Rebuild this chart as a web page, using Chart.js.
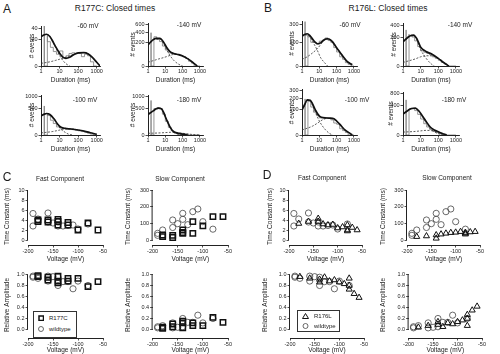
<!DOCTYPE html>
<html>
<head>
<meta charset="utf-8">
<title>Closed times</title>
<script src="https://cdn.jsdelivr.net/npm/chart.js@4.4.1/dist/chart.umd.min.js"></script>
<style>
  body { margin:0; width:500px; height:354px; overflow:hidden; background:#fff; position:relative;
         font-family:"Liberation Sans", Arial, sans-serif; color:#1a1a1a; }
  canvas { position:absolute; }
  .lbl { position:absolute; white-space:nowrap; transform:translate(-50%,-50%); font-size:6.5px; line-height:1; }
  .big { font-size:12px; }
  .head { font-size:8.5px; }
  .leg { position:absolute; border:1px solid #333; font-size:6px; box-sizing:border-box; padding:1px 0 0 4px; line-height:11px; background:#fff; }
  .leg svg { vertical-align:middle; margin-right:5px; }
</style>
</head>
<body>
<canvas id="a1"></canvas><canvas id="a2"></canvas><canvas id="a3"></canvas><canvas id="a4"></canvas>
<canvas id="b1"></canvas><canvas id="b2"></canvas><canvas id="b3"></canvas><canvas id="b4"></canvas>
<canvas id="c1"></canvas><canvas id="c2"></canvas><canvas id="c3"></canvas><canvas id="c4"></canvas>
<canvas id="d1"></canvas><canvas id="d2"></canvas><canvas id="d3"></canvas><canvas id="d4"></canvas>

<div class="lbl big" style="left:7px;top:9px">A</div>
<div class="lbl head" style="left:115px;top:8px">R177C: Closed times</div>
<div class="lbl big" style="left:268px;top:8px">B</div>
<div class="lbl head" style="left:388px;top:8px">R176L: Closed times</div>
<div class="lbl" style="left:88px;top:26px">-60 mV</div>
<div class="lbl" style="left:189px;top:25px">-140 mV</div>
<div class="lbl" style="left:85px;top:100px">-100 mV</div>
<div class="lbl" style="left:189px;top:100px">-180 mV</div>
<div class="lbl" style="left:350px;top:25px">-60 mV</div>
<div class="lbl" style="left:460px;top:25px">-140 mV</div>
<div class="lbl" style="left:357px;top:100px">-100 mV</div>
<div class="lbl" style="left:454px;top:100px">-180 mV</div>
<div class="lbl big" style="left:7px;top:177px">C</div>
<div class="lbl big" style="left:267px;top:175px">D</div>
<div class="lbl" style="left:60px;top:179px">Fast Component</div>
<div class="lbl" style="left:180px;top:179px">Slow Component</div>
<div class="lbl" style="left:322px;top:178px">Fast Component</div>
<div class="lbl" style="left:447px;top:178px">Slow Component</div>

<div class="leg" style="left:33px;top:311px;width:44px;height:27px">
  <div><svg width="6" height="6"><rect x="1" y="1" width="4.5" height="4.5" fill="none" stroke="#111" stroke-width="1.5"/></svg>R177C</div>
  <div><svg width="6" height="6"><circle cx="3" cy="3" r="2.5" fill="none" stroke="#444" stroke-width="0.8"/></svg>wildtype</div>
</div>
<div class="leg" style="left:297px;top:310px;width:43px;height:22px;line-height:9.5px">
  <div><svg width="7" height="6"><polygon points="3.5,0.5 6.5,5.5 0.5,5.5" fill="none" stroke="#111" stroke-width="1"/></svg>R176L</div>
  <div><svg width="7" height="6"><circle cx="3.5" cy="3" r="2.5" fill="none" stroke="#444" stroke-width="0.8"/></svg>wildtype</div>
</div>

<script>
// ---- histogram bins (ms) and tick values
var binEdges = [1.5, 2.2, 3.2, 4.6, 6.8, 10, 15, 22, 32, 46, 68, 100, 150, 220, 320, 460, 680, 1000];
var durTicks = [1, 10, 100, 1000];
var voltTicks = [-200, -150, -100, -50];

// ---- R177C closed-time histograms (# events per bin) and fits [ms, events]
var a1Hist = [46, 27, 17, 10, 6, 4, 6.5, 2, 3, 4.5, 5, 4.5, 4.5, 2.5, 4, 3, 0.5];
var a1Total = [[1,25],[1.5,28],[2,29],[3,25],[4,19],[6,11],[10,4.7],[15,2.3],[22,1.7],[35,2.2],[60,3.8],[100,5],[200,5.2],[350,4.2],[600,2],[1000,0.4],[1500,0]];
var a1Fast = [[1,25],[1.5,28],[2,29],[3,25],[4,18.5],[6,10],[10,3.2],[15,0.9],[22,0.15],[35,0]];
var a1Slow = [[1,0.2],[3,0.5],[6,0.9],[10,1.3],[22,2.2],[35,3],[60,4],[100,5],[200,5.2],[350,4.2],[600,2],[1000,0.4],[1500,0]];

var a2Hist = [390, 280, 300, 250, 210, 140, 90, 60, 55, 50, 45, 40, 30, 20, 8, 3, 0];
var a2Total = [[1,157],[1.5,210],[2,245],[3,270],[5,268],[8,200],[12,120],[18,75],[30,55],[60,45],[100,35],[200,18],[400,4],[700,0]];
var a2Fast = [[1,152],[1.5,204],[2,236],[3,258],[5,250],[8,175],[12,90],[18,42],[30,12],[60,1],[100,0]];
var a2Slow = [[1,5],[2,10],[4,17],[8,25],[15,35],[25,45],[40,48],[60,44],[100,35],[200,18],[400,4],[700,0]];

var a3Hist = [580, 300, 260, 150, 90, 45, 35, 30, 28, 26, 20, 16, 12, 8, 5, 2, 0.5];
var a3Total = [[1,250],[1.5,300],[2,318],[3,290],[5,180],[8,80],[12,42],[20,30],[40,25],[100,17],[300,7],[600,2],[1000,0.3]];
var a3Fast = [[1,247],[1.5,296],[2,313],[3,282],[5,170],[8,66],[12,22],[20,5],[30,0.5],[50,0]];
var a3Slow = [[1,3],[2,5],[4,8],[8,14],[15,22],[30,27],[60,24],[100,17],[300,7],[600,2],[1000,0.3]];

var a4Hist = [820, 460, 480, 510, 480, 300, 130, 40, 12, 5, 3, 2, 1, 0.5, 0, 0, 0];
var a4Total = [[1,290],[2,400],[3,470],[4,500],[6,470],[8,350],[10,230],[15,90],[20,35],[30,8],[50,2.5],[100,0.5],[200,0]];
var a4Fast = [[1,288],[2,397],[3,467],[4,496],[6,466],[8,346],[10,226],[15,86],[20,31],[30,5],[50,0.5],[100,0]];
var a4Slow = [[1,2],[5,3],[10,4],[20,5],[40,4],[100,2],[300,0.3],[1000,0]];

// ---- R176L closed-time histograms and fits
var b1Hist = [350, 170, 150, 100, 100, 85, 110, 120, 140, 115, 100, 60, 35, 15, 8, 2, 0.5];
var b1Total = [[1,160],[1.5,180],[2,185],[3,160],[5,110],[8,88],[12,95],[20,125],[30,132],[50,115],[100,60],[200,22],[400,4],[800,0.3]];
var b1Fast = [[1,152],[1.5,170],[2,172],[3,145],[5,85],[8,40],[12,12],[20,2],[30,0]];
var b1Slow = [[1,8],[2,15],[4,30],[8,55],[15,100],[25,128],[40,127],[60,105],[100,60],[200,22],[400,4],[800,0.3]];

var b2Hist = [310, 240, 215, 200, 150, 90, 55, 45, 38, 30, 20, 14, 8, 3, 1, 0, 0];
var b2Total = [[1,140],[2,200],[3,225],[4,228],[6,180],[10,85],[20,50],[40,35],[100,14],[200,3],[400,0]];
var b2Fast = [[1,137],[2,194],[3,215],[4,215],[6,165],[10,65],[20,15],[40,1],[60,0]];
var b2Slow = [[1,3],[2,6],[5,12],[10,20],[20,25],[40,25],[100,13],[200,3],[400,0]];

var b3Hist = [200, 195, 175, 120, 80, 60, 45, 48, 44, 42, 35, 22, 18, 6, 3, 1, 0];
var b3Total = [[1,95],[1.5,150],[2,190],[3,185],[4,150],[6,95],[10,55],[20,45],[40,44],[70,40],[150,18],[300,4],[600,0.4],[800,0]];
var b3Fast = [[1,91],[1.5,143],[2,183],[3,173],[4,138],[6,78],[10,30],[20,6],[40,0.3],[60,0]];
var b3Slow = [[1,4],[2,7],[4,12],[8,22],[15,35],[30,43],[60,40],[150,18],[300,4],[600,0.4],[800,0]];

var b4Hist = [580, 300, 320, 330, 280, 200, 120, 60, 30, 15, 7, 3, 1, 0, 0, 0, 0];
var b4Total = [[1,205],[2,290],[3,330],[5,340],[8,270],[12,180],[20,90],[35,30],[60,12],[100,5],[200,0.5],[300,0]];
var b4Fast = [[1,201],[2,285],[3,324],[5,334],[8,262],[12,172],[20,80],[35,20],[60,5],[100,0.8],[200,0]];
var b4Slow = [[1,4],[5,6],[10,8],[20,10],[40,9],[80,6],[150,2],[300,0]];

// ---- fitted parameters vs voltage
var r177cV       = [-180, -180, -160, -160, -140, -140, -140, -120, -120, -100, -80, -60];
var r177cFastTau = [4.0, 3.7, 4.0, 3.6, 4.1, 3.7, 3.0, 3.5, 3.0, 2.0, 3.4, 2.0];
var r177cSlowTau = [30, 20, 28, 15, 40, 60, 45, 110, 40, 85, 140, 140];
var r177cFastAmp = [0.98, 0.96, 0.95, 0.90, 0.97, 0.88, 0.85, 0.93, 0.88, 0.93, 0.78, 0.87];
var r177cSlowAmp = [0.02, 0.04, 0.05, 0.10, 0.03, 0.12, 0.15, 0.07, 0.12, 0.07, 0.22, 0.13];

var r176lV       = [-180, -160, -140, -140, -130, -120, -110, -100, -90, -80, -80, -80, -70, -60];
var r176lFastTau = [3.3, 3.7, 4.3, 3.7, 3.2, 3.0, 3.1, 2.4, 2.6, 1.8, 2.0, 3.0, 2.5, 2.0];
var r176lSlowTau = [20, 24, 30, 10, 35, 40, 44, 46, 50, 40, 35, 45, 48, 50];
var r176lFastAmp = [0.96, 0.93, 0.91, 0.86, 0.95, 0.88, 0.90, 0.86, 0.83, 0.93, 0.80, 0.73, 0.65, 0.58];
var r176lSlowAmp = [0.04, 0.07, 0.09, 0.14, 0.05, 0.12, 0.10, 0.14, 0.17, 0.07, 0.20, 0.27, 0.35, 0.42];

var wtV       = [-190, -190, -180, -160, -160, -150, -140, -140, -130, -120, -110, -100, -80];
var wtFastTau = [5.3, 2.8, 4.2, 5.4, 3.6, 3.4, 3.6, 2.8, 2.8, 2.9, 3.0, 2.2, 3.2];
var wtSlowTau = [28, 40, 60, 120, 75, 98, 160, 124, 92, 170, 186, 110, 65];
var wtFastAmp = [0.97, 0.95, 0.93, 0.97, 0.88, 0.96, 0.95, 0.80, 0.87, 0.87, 0.74, 0.88, 0.80];
var wtSlowAmp = [0.03, 0.05, 0.07, 0.03, 0.12, 0.04, 0.05, 0.20, 0.13, 0.13, 0.26, 0.12, 0.20];

Chart.defaults.font.family = '"Liberation Sans", Arial, sans-serif';
Chart.defaults.font.size = 5.5;
Chart.defaults.color = '#222';
Chart.defaults.animation = false;
Chart.defaults.plugins.legend.display = false;
Chart.defaults.plugins.tooltip.enabled = false;

var axisGrid = { display: true, drawOnChartArea: false, drawTicks: true, tickLength: 2.5, color: '#222', lineWidth: 0.8 };
var axisBorder = { display: true, color: '#222', width: 1 };
var titleFont = { size: 6.5 };
var HIST_YW = 24;

// y axis that only spans from the first to the last tick (detached from the x axis)
var detachedAxis = {
    id: 'detachedAxis',
    afterDraw: function (chart) {
        var y = chart.scales.y, t = y.ticks, ctx = chart.ctx;
        ctx.save();
        ctx.strokeStyle = '#222';
        ctx.lineWidth = 1;
        ctx.beginPath();
        ctx.moveTo(y.right - 0.5, y.getPixelForValue(t[0].value));
        ctx.lineTo(y.right - 0.5, y.getPixelForValue(t[t.length - 1].value));
        ctx.stroke();
        ctx.restore();
    }
};

function placeCanvas(id, g, yw, xh) {
    var c = document.getElementById(id);
    c.width = Math.round(g.R - g.L + yw + 12);
    c.height = Math.round(g.B - g.T + 6 + xh);
    c.style.left = Math.round(g.L - yw) + 'px';
    c.style.top = Math.round(g.T - 6) + 'px';
    return c;
}

function sq(p) { return { x: p[0], y: Math.sqrt(p[1]) }; }

function stepPoints(hist) {
    var pts = [{ x: binEdges[0], y: 0 }, { x: binEdges[0], y: Math.sqrt(hist[0]) }, { x: binEdges[1], y: 0 }];
    for (var i = 1; i < hist.length; i++) {
        pts.push({ x: binEdges[i], y: Math.sqrt(hist[i]) });
    }
    pts.push({ x: binEdges[hist.length], y: 0 });
    return pts;
}

// titleGap: distance from the y axis to the "# events" title
function histChart(id, g, titleGap, yTicks, yMax, hist, total, fast, slow) {
    var c = placeCanvas(id, g, HIST_YW, 18);
    new Chart(c, {
        type: 'line',
        data: {
            datasets: [
                { data: total.map(sq), borderColor: '#111', borderWidth: 1.7, pointRadius: 0, cubicInterpolationMode: 'monotone' },
                { data: fast.map(sq), borderColor: '#333', borderWidth: 0.8, borderDash: [2, 1.5], pointRadius: 0, cubicInterpolationMode: 'monotone' },
                { data: slow.map(sq), borderColor: '#333', borderWidth: 0.8, borderDash: [2, 1.5], pointRadius: 0, cubicInterpolationMode: 'monotone' },
                { data: stepPoints(hist), stepped: 'after', borderColor: '#7a7a7a', borderWidth: 0.8, pointRadius: 0 }
            ]
        },
        options: {
            responsive: false,
            layout: { padding: { top: 6, right: 12, left: 0, bottom: 0 } },
            scales: {
                x: {
                    type: 'logarithmic', min: 1, max: 1500,
                    afterFit: function (s) { s.height = 18; },
                    afterBuildTicks: function (s) { s.ticks = durTicks.map(function (v) { return { value: v }; }); },
                    ticks: { callback: function (v) { return String(v); }, padding: 0, maxRotation: 0, autoSkip: false },
                    grid: axisGrid, border: axisBorder,
                    title: { display: true, text: 'Duration (ms)', font: titleFont, padding: 0 }
                },
                y: {
                    type: 'linear', min: 0, max: Math.sqrt(yMax), bounds: 'data',
                    afterFit: function (s) { s.width = HIST_YW; },
                    afterBuildTicks: function (s) { s.ticks = yTicks.map(function (v) { return { value: Math.sqrt(v) }; }); },
                    ticks: { callback: function (v) { return String(Math.round(v * v)); }, padding: 1, autoSkip: false },
                    grid: axisGrid, border: axisBorder,
                    title: { display: true, text: '# events', font: titleFont, padding: { top: HIST_YW - titleGap, bottom: 0 } }
                }
            }
        }
    });
}

function pts(v, y) { return v.map(function (x, i) { return { x: x, y: y[i] }; }); }

function squares(y) {
    return { data: pts(r177cV, y), pointStyle: 'rect', pointRadius: 3.8, borderColor: '#111', borderWidth: 1.5, backgroundColor: 'rgba(0,0,0,0)' };
}
function triangles(y) {
    return { data: pts(r176lV, y), pointStyle: 'triangle', pointRadius: 3.5, borderColor: '#111', borderWidth: 1, backgroundColor: 'rgba(0,0,0,0)' };
}
function circles(y) {
    return { data: pts(wtV, y), pointStyle: 'circle', pointRadius: 3.1, borderColor: '#444', borderWidth: 0.8, backgroundColor: 'rgba(0,0,0,0)' };
}

function scatterChart(id, g, yw, xh, yMin, yMax, yTicks, digits, yTitle, sets) {
    var c = placeCanvas(id, g, yw, xh);
    new Chart(c, {
        type: 'scatter',
        data: { datasets: sets },
        options: {
            responsive: false,
            layout: { padding: { top: 6, right: 12, left: 0, bottom: 0 } },
            scales: {
                x: {
                    type: 'linear', min: -200, max: -50, bounds: 'data',
                    afterFit: function (s) { s.height = xh; },
                    afterBuildTicks: function (s) { s.ticks = voltTicks.map(function (v) { return { value: v }; }); },
                    ticks: { callback: function (v) { return String(v); }, padding: 0.5, maxRotation: 0, autoSkip: false },
                    grid: axisGrid, border: axisBorder,
                    title: { display: true, text: 'Voltage (mV)', font: titleFont, padding: 0 }
                },
                y: {
                    type: 'linear', min: yMin, max: yMax, bounds: 'data',
                    afterFit: function (s) { s.width = yw; },
                    afterBuildTicks: function (s) { s.ticks = yTicks.map(function (v) { return { value: v }; }); },
                    ticks: { callback: function (v) { return v.toFixed(digits); }, padding: 1, autoSkip: false },
                    grid: axisGrid, border: { display: false },
                    title: { display: true, text: yTitle, font: titleFont, padding: 0 }
                }
            }
        },
        plugins: [detachedAxis]
    });
}

// A: R177C
histChart('a1', { L: 41, R: 100, T: 26, B: 66 }, 13, [0, 20, 40], 46, a1Hist, a1Total, a1Fast, a1Slow);
histChart('a2', { L: 148, R: 203, T: 23, B: 66 }, 18.5, [0, 200, 400, 600], 650, a2Hist, a2Total, a2Fast, a2Slow);
histChart('a3', { L: 41, R: 100, T: 95, B: 135 }, 13, [0, 500, 1000], 1100, a3Hist, a3Total, a3Fast, a3Slow);
histChart('a4', { L: 148, R: 203, T: 95, B: 135 }, 18.5, [0, 500, 1000], 1100, a4Hist, a4Total, a4Fast, a4Slow);
// B: R176L
histChart('b1', { L: 302, R: 357, T: 21, B: 66 }, 14, [0, 100, 300], 360, b1Hist, b1Total, b1Fast, b1Slow);
histChart('b2', { L: 403, R: 459, T: 23, B: 66 }, 13, [0, 200, 400], 440, b2Hist, b2Total, b2Fast, b2Slow);
histChart('b3', { L: 302, R: 357, T: 89, B: 135 }, 14, [0, 100, 200, 300], 325, b3Hist, b3Total, b3Fast, b3Slow);
histChart('b4', { L: 403, R: 459, T: 92, B: 135 }, 16, [0, 400, 800], 870, b4Hist, b4Total, b4Fast, b4Slow);

var tauFastTicks = [0, 2, 4, 6, 8, 10];
var tauSlowTicks = [0, 100, 200, 300];
var ampTicks = [0, 0.2, 0.4, 0.6, 0.8, 1.0];

// C: R177C vs wildtype
scatterChart('c1', { L: 28, R: 103, T: 188, B: 245 }, 25, 18, -1, 10.4, tauFastTicks, 0, 'Time Constant (ms)', [squares(r177cFastTau), circles(wtFastTau)]);
scatterChart('c2', { L: 153, R: 228, T: 188, B: 245 }, 28.6, 18, -30, 312, tauSlowTicks, 0, 'Time Constant (ms)', [squares(r177cSlowTau), circles(wtSlowTau)]);
scatterChart('c3', { L: 28, R: 103, T: 272, B: 338 }, 25, 16, -0.1545, 1.045, ampTicks, 1, 'Relative Amplitude', [squares(r177cFastAmp), circles(wtFastAmp)]);
scatterChart('c4', { L: 153, R: 228, T: 272, B: 338 }, 28.6, 16, -0.1545, 1.045, ampTicks, 1, 'Relative Amplitude', [squares(r177cSlowAmp), circles(wtSlowAmp)]);
// D: R176L vs wildtype
scatterChart('d1', { L: 289, R: 362, T: 188, B: 245 }, 23, 18, -1, 10.4, tauFastTicks, 0, 'Time Constant (ms)', [triangles(r176lFastTau), circles(wtFastTau)]);
scatterChart('d2', { L: 407, R: 480, T: 188, B: 245 }, 28, 18, -30, 312, tauSlowTicks, 0, 'Time Constant (ms)', [triangles(r176lSlowTau), circles(wtSlowTau)]);
scatterChart('d3', { L: 290, R: 364, T: 272, B: 338 }, 29, 16, -0.1545, 1.045, ampTicks, 1, 'Relative Amplitude', [triangles(r176lFastAmp), circles(wtFastAmp)]);
scatterChart('d4', { L: 409, R: 482, T: 272, B: 338 }, 29.6, 16, -0.1545, 1.045, ampTicks, 1, 'Relative Amplitude', [triangles(r176lSlowAmp), circles(wtSlowAmp)]);
</script>
</body>
</html>
